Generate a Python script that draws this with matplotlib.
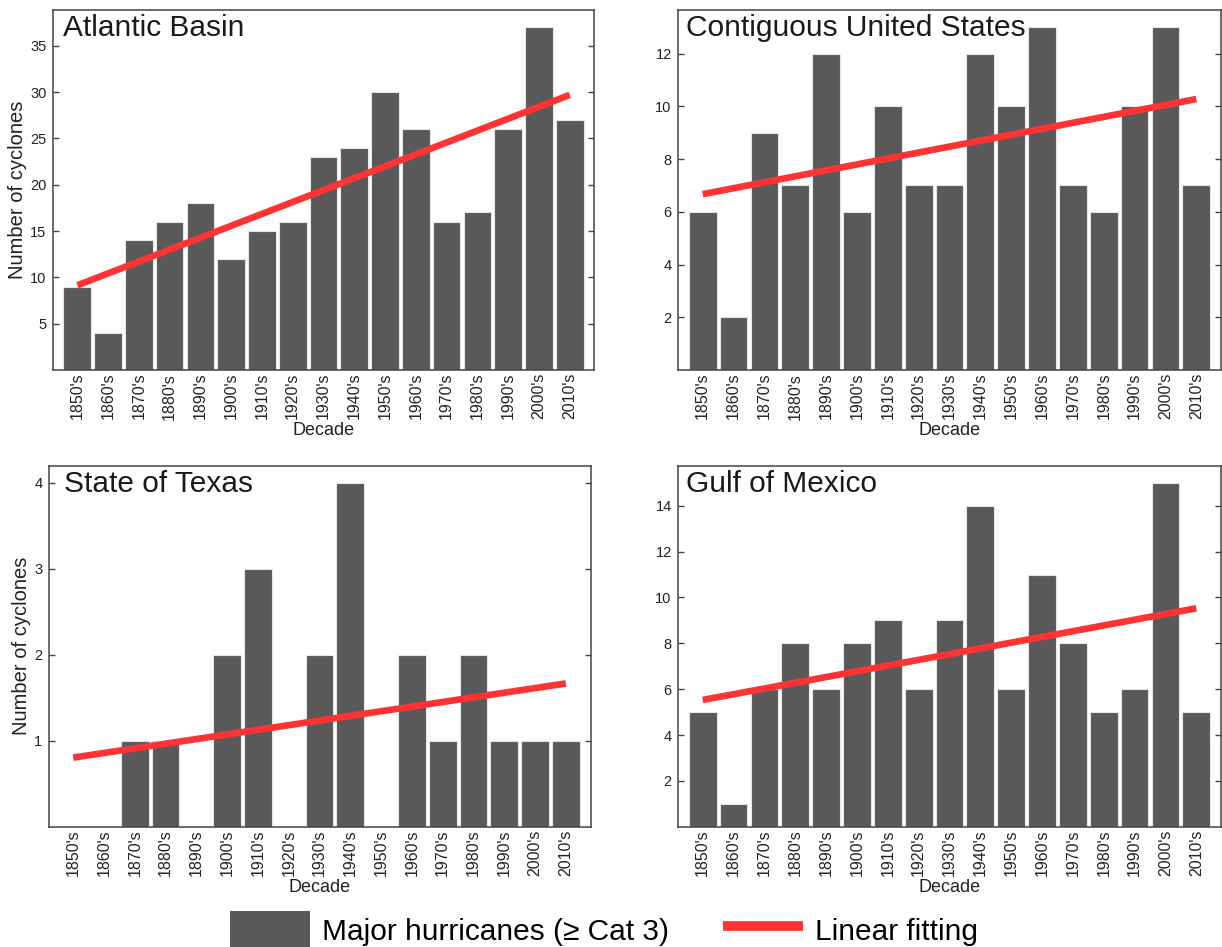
import numpy as np
import matplotlib
matplotlib.use("Agg")
import matplotlib.pyplot as plt
from matplotlib.patches import Patch
from matplotlib.lines import Line2D

plt.rcParams['font.family'] = ['Liberation Sans', 'DejaVu Sans']

decades = ["1850's", "1860's", "1870's", "1880's", "1890's", "1900's", "1910's",
           "1920's", "1930's", "1940's", "1950's", "1960's", "1970's", "1980's",
           "1990's", "2000's", "2010's"]
atlantic = [9, 4, 14, 16, 18, 12, 15, 16, 23, 24, 30, 26, 16, 17, 26, 37, 27]
contiguous = [6, 2, 9, 7, 12, 6, 10, 7, 7, 12, 10, 13, 7, 6, 10, 13, 7]
texas = [0, 0, 1, 1, 0, 2, 3, 0, 2, 4, 0, 2, 1, 2, 1, 1, 1]
gulf = [5, 1, 6, 8, 6, 8, 9, 6, 9, 14, 6, 11, 8, 5, 6, 15, 5]

titles = ["Atlantic Basin", "Contiguous United States", "State of Texas", "Gulf of Mexico"]
series = [atlantic, contiguous, texas, gulf]
yticks = [[5, 10, 15, 20, 25, 30, 35], [2, 4, 6, 8, 10, 12], [1, 2, 3, 4], [2, 4, 6, 8, 10, 12, 14]]
ylabels = ["Number of cyclones", "", "Number of cyclones", ""]
legend_labels = ["Major hurricanes (\u2265 Cat 3)", "Linear fitting"]

BAR = '#595959'
RED = '#ff3333'
SPINE = '#444444'

W, H = 1222, 947
fig = plt.figure(figsize=(W / 100, H / 100), dpi=100)

# axes boxes in pixels: left, right, top, bottom
boxes = [(52.7, 594.3, 10, 370), (678, 1221, 10, 370),
         (48.6, 590.5, 465.7, 826.7), (678, 1221, 465.7, 826.7)]
title_dx = [10, 8, 15, 8]

for i, (b, vals) in enumerate(zip(boxes, series)):
    l, r, t, bt = b
    ax = fig.add_axes([l / W, 1 - bt / H, (r - l) / W, (bt - t) / H])
    x = np.arange(len(decades))
    ax.bar(x, vals, width=0.9, color=BAR, edgecolor='#e6e6e6', linewidth=0.8, zorder=2)
    k, c = np.polyfit(x, vals, 1)
    ax.plot([x[0], x[-1]], [c + k * x[0], c + k * x[-1]], color=RED, lw=4.8,
            solid_capstyle='butt', zorder=3)
    ax.set_xlim(-0.8, len(decades) - 1 + 0.8)
    ax.set_ylim(0, max(vals) * 1.05)
    ax.set_xticks(x)
    ax.set_xticklabels(decades, rotation=90, fontsize=11.5, color='#222222')
    ax.set_yticks(yticks[i])
    ax.set_yticklabels([str(v) for v in yticks[i]], fontsize=10.5, color='#222222')
    ax.tick_params(axis='x', length=0, pad=2)
    ax.tick_params(axis='y', direction='in', length=4, width=1, color=SPINE,
                   right=True, left=True, pad=4.5)
    for s in ax.spines.values():
        s.set_color(SPINE)
        s.set_linewidth(1.1)
    ax.set_xlabel("Decade", fontsize=13, labelpad=2, color='#222222')
    if ylabels[i]:
        ax.set_ylabel(ylabels[i], fontsize=14.5, labelpad=2, color='#222222')
    ax.text(title_dx[i] / (r - l), 1 - 4 / (bt - t), titles[i], transform=ax.transAxes,
            ha='left', va='top', fontsize=21.5, color='#1a1a1a', zorder=4)

handles = [Patch(facecolor=BAR, edgecolor='none'),
           Line2D([], [], color=RED, lw=7, solid_capstyle='butt')]
fig.legend(handles=handles, labels=legend_labels, loc='center',
           bbox_to_anchor=(604 / W, 1 - 930 / H), ncol=2, frameon=False,
           fontsize=21.5, handlelength=2.68, handleheight=1.54, handletextpad=0.4,
           columnspacing=1.8, borderpad=0, borderaxespad=0)

fig.savefig("out.png", dpi=100)
